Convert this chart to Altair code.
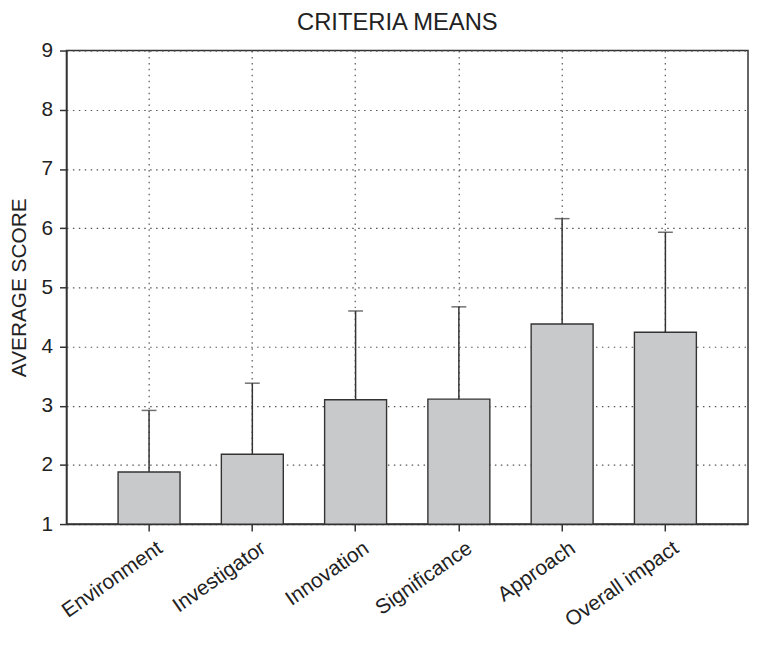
import altair as alt
import pandas as pd

title_text = ["CRITERIA MEANS"]
categories = ["Environment", "Investigator", "Innovation", "Significance", "Approach", "Overall impact"]
means = [1.88, 2.18, 3.10, 3.11, 4.38, 4.24]
upper = [2.92, 3.38, 4.60, 4.67, 6.16, 5.93]
y_ticks = [1, 2, 3, 4, 5, 6, 7, 8, 9]

df = pd.DataFrame({"criterion": categories, "mean": means, "upper": upper})
title_df = pd.DataFrame({"t": title_text})

FONT = "Liberation Sans"
DARK = "#333333"
TEXT = "#222222"
W, H = 688, 478

x_enc = alt.X(
    "criterion:N",
    sort=categories,
    title=None,
    scale=alt.Scale(paddingInner=0.4, paddingOuter=0.5),
    axis=alt.Axis(
        labelAngle=-35,
        labelAlign="right",
        labelBaseline="top",
        labelOffset=5,
        labelPadding=6,
        labelFontSize=21,
        labelFont=FONT,
        labelColor=TEXT,
        tickSize=7,
        tickColor=DARK,
        tickWidth=1.5,
        domainColor=DARK,
        domainWidth=1.5,
        grid=True,
        gridColor="#555555",
        gridDash=[1.5, 4.5],
        gridWidth=1.2,
    ),
)

y_scale = alt.Scale(domain=[1, 9], zero=False, nice=False)
y_axis = alt.Axis(
    values=y_ticks,
    format="d",
    title="AVERAGE SCORE",
    titleFont=FONT,
    titleFontSize=21,
    titleFontWeight="normal",
    titleColor=TEXT,
    titleX=-41,
    titleY=H / 2,
    titleAlign="center",
    titleBaseline="alphabetic",
    labelFontSize=21,
    labelFont=FONT,
    labelColor=TEXT,
    labelPadding=7,
    tickSize=7,
    tickColor=DARK,
    tickWidth=1.5,
    domainColor=DARK,
    domainWidth=1.5,
    grid=True,
    gridColor="#555555",
    gridDash=[1.5, 4.5],
    gridWidth=1.2,
)

base = alt.Chart(df)

bars = base.mark_bar(fill="#c8c9cb", stroke=DARK, strokeWidth=1.4).encode(
    x=x_enc,
    y=alt.Y("mean:Q", scale=y_scale, axis=y_axis),
    y2=alt.datum(1),
)

err = base.mark_rule(color=DARK, strokeWidth=1.5).encode(
    x=alt.X("criterion:N", sort=categories),
    y="mean:Q",
    y2="upper:Q",
)

caps = base.mark_tick(color=DARK, thickness=1.5, size=15, orient="horizontal").encode(
    x=alt.X("criterion:N", sort=categories),
    y="upper:Q",
)

title = alt.Chart(title_df).mark_text(
    font=FONT, fontSize=24, color=TEXT, align="center", baseline="alphabetic"
).encode(
    text="t:N",
    x=alt.value(W / 2 - 10),
    y=alt.value(-21),
)

chart = (
    alt.layer(bars, err, caps, title)
    .properties(
        width=W,
        height=H,
        padding={"left": 59, "top": 40, "right": 1, "bottom": 106},
        autosize=alt.AutoSizeParams(type="none"),
    )
    .configure_view(stroke=DARK, strokeWidth=1.5)
)

chart.save("out.html", embed_options={"renderer": "svg", "actions": False})
